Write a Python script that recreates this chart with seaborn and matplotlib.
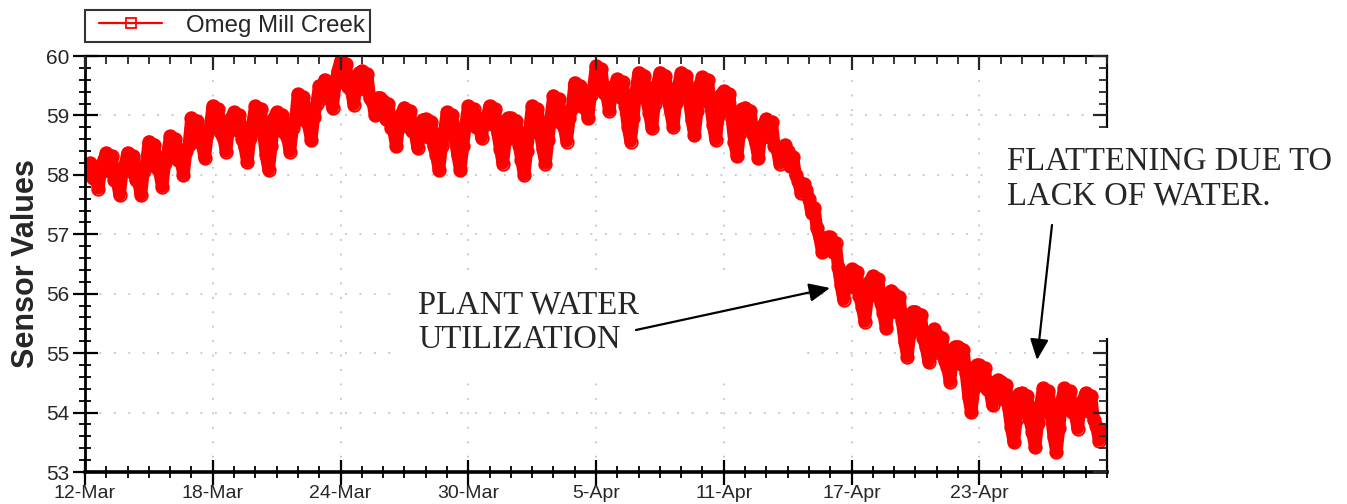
import numpy as np
import pandas as pd
import matplotlib
matplotlib.use("Agg")
import matplotlib.pyplot as plt
import matplotlib.dates as mdates
from matplotlib.lines import Line2D
from matplotlib.legend_handler import HandlerLine2D
from matplotlib.patches import Rectangle, FancyArrowPatch
from matplotlib.ticker import MultipleLocator
import seaborn as sns

# ---------------- data (3-hourly readings) ----------------
series_name = "Omeg Mill Creek"
start_time = "2005-03-12 03:00"
step = "3h"

mar12_17 = [58.05, 58.20, 57.95, 57.95, 57.77, 58.10, 58.25,
            58.37, 58.07, 58.32, 57.92, 57.91, 57.66, 58.06, 58.17,
            58.37, 58.07, 58.32, 57.92, 57.91, 57.66, 58.06, 58.20,
            58.56, 58.26, 58.51, 58.11, 58.05, 57.80, 58.20, 58.36,
            58.65, 58.35, 58.60, 58.25, 58.25, 58.00, 58.40, 58.50,
            58.96, 58.66, 58.91, 58.56, 58.53, 58.28, 58.68, 58.80]
mar18_23 = [59.16, 58.86, 59.11, 58.71, 58.64, 58.39, 58.79, 58.96,
            59.05, 58.75, 59.00, 58.60, 58.47, 58.22, 58.62, 58.88,
            59.16, 58.86, 59.11, 58.71, 58.33, 58.08, 58.48, 58.96,
            59.05, 58.75, 59.00, 58.70, 58.64, 58.39, 58.79, 58.90,
            59.36, 59.06, 59.31, 58.91, 58.83, 58.58, 58.98, 59.20,
            59.50, 59.30, 59.60, 59.35, 59.37, 59.12, 59.52, 59.75]
mar24_29 = [59.92, 59.62, 59.87, 59.47, 59.43, 59.18, 59.58, 59.72,
            59.75, 59.45, 59.70, 59.30, 59.25, 59.00, 59.30, 59.30,
            59.24, 58.94, 59.19, 58.79, 58.73, 58.48, 58.88, 59.04,
            59.13, 58.83, 59.08, 58.73, 58.70, 58.45, 58.85, 58.93,
            58.94, 58.64, 58.89, 58.49, 58.33, 58.08, 58.48, 58.74,
            59.05, 58.75, 59.00, 58.60, 58.33, 58.08, 58.48, 58.85]
mar30_apr04 = [59.16, 58.86, 59.11, 58.80, 58.87, 58.62, 58.95, 58.96,
               59.16, 58.86, 59.11, 58.71, 58.44, 58.19, 58.59, 58.96,
               58.96, 58.66, 58.91, 58.51, 58.25, 58.00, 58.40, 58.76,
               59.16, 58.86, 59.11, 58.71, 58.44, 58.19, 58.59, 58.96,
               59.33, 59.03, 59.28, 58.88, 58.81, 58.56, 58.96, 59.13,
               59.55, 59.25, 59.50, 59.15, 59.20, 58.95, 59.35, 59.45]
apr05_10 = [59.83, 59.53, 59.78, 59.38, 59.33, 59.08, 59.48, 59.50,
            59.61, 59.31, 59.56, 59.16, 58.81, 58.56, 58.96, 59.41,
            59.72, 59.42, 59.67, 59.27, 59.04, 58.79, 59.19, 59.52,
            59.72, 59.42, 59.67, 59.27, 59.06, 58.81, 59.21, 59.52,
            59.72, 59.42, 59.67, 59.27, 58.92, 58.67, 59.07, 59.52,
            59.64, 59.34, 59.59, 59.19, 58.84, 58.59, 58.99, 59.35]
apr11_16 = [59.41, 59.11, 59.36, 58.96, 58.56, 58.31, 58.71, 59.10,
            59.13, 58.83, 59.08, 58.68, 58.53, 58.28, 58.68, 58.85,
            58.94, 58.64, 58.89, 58.49, 58.44, 58.19, 58.45, 58.50,
            58.40, 58.15, 58.30, 58.00, 57.90, 57.70, 57.85, 57.75,
            57.60, 57.35, 57.45, 57.10, 56.95, 56.70, 56.90, 56.95,
            56.95, 56.70, 56.85, 56.45, 56.15, 55.90, 56.20, 56.35]
apr17_22 = [56.41, 56.11, 56.36, 55.96, 55.78, 55.53, 55.93, 56.21,
            56.30, 56.00, 56.25, 55.85, 55.67, 55.42, 55.82, 56.05,
            55.99, 55.69, 55.94, 55.54, 55.19, 54.94, 55.34, 55.70,
            55.70, 55.40, 55.65, 55.25, 55.10, 54.85, 55.25, 55.40,
            55.31, 55.01, 55.26, 54.86, 54.77, 54.52, 54.92, 55.11,
            55.11, 54.81, 55.06, 54.66, 54.26, 54.01, 54.41, 54.80]
apr23_28 = [54.80, 54.50, 54.75, 54.40, 54.37, 54.12, 54.52, 54.55,
            54.52, 54.22, 54.47, 54.07, 53.75, 53.50, 53.90, 54.32,
            54.33, 54.03, 54.28, 53.88, 53.67, 53.42, 53.82, 54.13,
            54.41, 54.11, 54.36, 53.96, 53.59, 53.34, 53.74, 54.21,
            54.41, 54.11, 54.36, 54.01, 53.98, 53.73, 54.13, 54.21,
            54.33, 54.03, 54.28, 53.88, 53.78, 53.53, 53.70]

x_tick_dates = ["2005-03-12", "2005-03-18", "2005-03-24", "2005-03-30",
                "2005-04-05", "2005-04-11", "2005-04-17", "2005-04-23"]
x_tick_labels = ["12-Mar", "18-Mar", "24-Mar", "30-Mar",
                 "5-Apr", "11-Apr", "17-Apr", "23-Apr"]
x_start, x_end = "2005-03-12", "2005-04-29"
y_ticks = [53, 54, 55, 56, 57, 58, 59, 60]
y_labels = ["53", "54", "55", "56", "57", "58", "59", "60"]

y_label = "Sensor Values"
note_flat = "FLATTENING DUE TO\nLACK OF WATER."
note_plant = "PLANT WATER\nUTILIZATION"

# ---------------- build table ----------------
values = (mar12_17 + mar18_23 + mar24_29 + mar30_apr04 +
          apr05_10 + apr11_16 + apr17_22 + apr23_28)
times = pd.date_range(start_time, periods=len(values), freq=step)
df = pd.DataFrame({"time": times, "value": values})

# ---------------- style ----------------
sns.set_style("white")
plt.rcParams["font.family"] = ["Liberation Sans", "DejaVu Sans"]

W, H = 1347, 504
fig = plt.figure(figsize=(W / 100, H / 100), dpi=100)
L, R, T, B = 85, 1107, 56, 472
ax = fig.add_axes([L / W, 1 - B / H, (R - L) / W, (B - T) / H])

red = "#ff0000"
sns.lineplot(data=df, x="time", y="value", ax=ax, color=red, linewidth=9,
             marker="o", markersize=9, markerfacecolor="none",
             markeredgecolor=red, markeredgewidth=1.3,
             solid_joinstyle="round", solid_capstyle="round",
             legend=False, sort=False, estimator=None)

ax.set_xlim(pd.Timestamp(x_start), pd.Timestamp(x_end))
ax.set_ylim(y_ticks[0], y_ticks[-1])
ax.set_xticks(pd.to_datetime(x_tick_dates))
ax.set_xticklabels(x_tick_labels, fontsize=14)
ax.xaxis.set_minor_locator(mdates.DayLocator())
ax.set_yticks(y_ticks)
ax.set_yticklabels(y_labels, fontsize=15)
ax.yaxis.set_minor_locator(MultipleLocator(0.2))
ax.set_xlabel("")
ax.set_ylabel(y_label, fontsize=22, fontweight="bold")
ax.yaxis.set_label_coords(-0.043, 0.5)

ax.tick_params(axis="both", which="major", direction="inout", length=18,
               width=1.6, color="black", top=False, right=False, pad=2)
ax.tick_params(axis="x", which="major", pad=0)
ax.tick_params(axis="both", which="minor", direction="inout", length=9,
               width=1.3, color="black", top=False, right=False)

ax.grid(True, which="major", color="#c4c4c4", linestyle=(0, (1, 7)), linewidth=1.3)
ax.set_axisbelow(True)

for side, lw in {"left": 2.0, "bottom": 2.6, "top": 1.6, "right": 1.6}.items():
    ax.spines[side].set_visible(True)
    ax.spines[side].set_color("black")
    ax.spines[side].set_linewidth(lw)

# inward ticks on top and right
ax_top = ax.twiny()
ax_top.set_xlim(ax.get_xlim())
ax_top.set_xticks(mdates.date2num(pd.to_datetime(x_tick_dates)))
ax_top.xaxis.set_minor_locator(MultipleLocator(1))
ax_top.tick_params(axis="x", which="major", direction="in", length=10, width=1.6,
                   labeltop=False, top=True, bottom=False)
ax_top.tick_params(axis="x", which="minor", direction="in", length=6, width=1.3,
                   top=True, bottom=False)
ax_right = ax.twinx()
ax_right.set_ylim(ax.get_ylim())
ax_right.set_yticks(y_ticks)
ax_right.yaxis.set_minor_locator(MultipleLocator(0.2))
ax_right.tick_params(axis="y", which="major", direction="in", length=10, width=1.6,
                     labelright=False, right=True, left=False)
ax_right.tick_params(axis="y", which="minor", direction="in", length=6, width=1.3,
                     right=True, left=False)
for a in (ax_top, ax_right):
    for s in a.spines.values():
        s.set_visible(False)
    a.grid(False)

# legend
handle = Line2D([], [], color=red, lw=1.6, marker="s", markersize=7,
                markerfacecolor="none", markeredgecolor=red, markeredgewidth=1.3)
leg = fig.legend(handles=[handle], labels=[series_name], loc="upper left",
                 bbox_to_anchor=(L / W, 1 - 10 / H), frameon=True, fancybox=False,
                 edgecolor="black", fontsize=17.3, handlelength=3.0,
                 handletextpad=1.0, borderpad=0.2, borderaxespad=0,
                 handler_map={Line2D: HandlerLine2D(xpad=0.4)})
leg.get_frame().set_linewidth(1.5)
leg.get_frame().set_facecolor("white")


# annotation text boxes (white, covering grid / frame as in the original)
def px_rect(x0, y0, x1, y1):
    return Rectangle((x0 / W, 1 - y1 / H), (x1 - x0) / W, (y1 - y0) / H,
                     transform=fig.transFigure, facecolor="white",
                     edgecolor="none", zorder=2)


fig.add_artist(px_rect(985, 128, W, 338))
fig.add_artist(px_rect(395, 272, 797, 378))

serif = ["Liberation Serif", "DejaVu Serif"]
fig.text(1007 / W, 1 - 146 / H, note_flat, family=serif, fontsize=23.5,
         ha="left", va="top", linespacing=1.18, zorder=3)
fig.text(418 / W, 1 - 290 / H, note_plant, family=serif, fontsize=23.5,
         ha="left", va="top", linespacing=1.18, zorder=3)


def px_arrow(x0, y0, x1, y1):
    return FancyArrowPatch((x0 / W, 1 - y0 / H), (x1 / W, 1 - y1 / H),
                           transform=fig.transFigure,
                           arrowstyle="-|>,head_length=0.9,head_width=0.4",
                           mutation_scale=14, color="black", lw=1.6,
                           shrinkA=0, shrinkB=0, zorder=4)


fig.add_artist(px_arrow(636, 330, 830, 288))
fig.add_artist(px_arrow(1052, 225, 1037, 360))

fig.savefig("out.png", dpi=100)
